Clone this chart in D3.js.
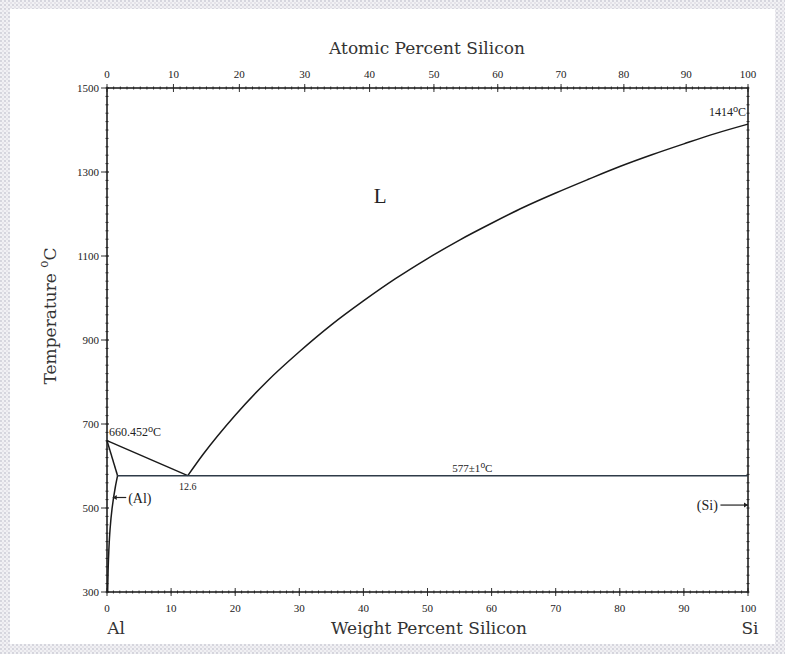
<!DOCTYPE html>
<meta charset="utf-8">
<script src="https://d3js.org/d3.v7.min.js"></script>
<style>
  body { margin: 0; background: #fff; }
  text { font-family: "Liberation Serif", "DejaVu Serif", serif; fill: #222; }
  .title { font-family: "DejaVu Serif", serif; font-size: 17px; fill: #333; }
</style>
<div id="chart"></div>
<script>
// tick values
var weightTicks = [0, 10, 20, 30, 40, 50, 60, 70, 80, 90, 100];
var atomicTicks = [0, 10, 20, 30, 40, 50, 60, 70, 80, 90, 100];
var tempTicks = [300, 500, 700, 900, 1100, 1300, 1500];

// phase boundaries, weight % Si vs temperature (C)
var liquidusWt = [12.6, 15, 20, 25, 30, 35, 40, 45, 50, 55, 60, 65, 70, 75, 80, 85, 90, 95, 100];
var liquidusT  = [577, 628, 721, 802, 872, 936, 993, 1046, 1094, 1138, 1178, 1216, 1250, 1282, 1313, 1341, 1367, 1392, 1414];
var alLiqWt = [0, 12.6];
var alLiqT  = [660.452, 577];
var solidusWt = [0, 1.65];
var solidusT  = [660.452, 577];
var solvusWt = [1.65, 1.3, 0.8, 0.48, 0.29, 0.17, 0.1];
var solvusT  = [577, 550, 500, 450, 400, 350, 300];
var eutecticWt = [1.65, 100];
var eutecticT  = [577, 577];

var W = 785, H = 654;
var margin = {top: 88, right: 37, bottom: 62, left: 107},
    width = W - margin.left - margin.right,
    height = H - margin.top - margin.bottom;

var svg = d3.select("#chart").append("svg")
    .attr("width", W).attr("height", H);

// dotted paper border
var defs = svg.append("defs");
var pat = defs.append("pattern").attr("id", "dots")
    .attr("width", 4).attr("height", 4).attr("patternUnits", "userSpaceOnUse");
pat.append("rect").attr("width", 4).attr("height", 4).attr("fill", "#f1f1f4");
pat.append("circle").attr("cx", 1).attr("cy", 1).attr("r", 0.9).attr("fill", "#c9c9d3");
pat.append("circle").attr("cx", 3).attr("cy", 3).attr("r", 0.8).attr("fill", "#d6d3dc");
svg.append("rect").attr("width", W).attr("height", H).attr("fill", "url(#dots)");
svg.append("rect").attr("x", 10).attr("y", 9).attr("width", W - 20).attr("height", H - 19)
    .attr("fill", "#fff");

var g = svg.append("g").attr("transform", "translate(" + margin.left + "," + margin.top + ")");

var x = d3.scaleLinear().domain([0, 100]).range([0, width]);
var y = d3.scaleLinear().domain([300, 1500]).range([height, 0]);

// atomic % -> weight % (Al 26.982, Si 28.086)
function atToWt(a) {
  return 100 * a * 28.086 / (a * 28.086 + (100 - a) * 26.982);
}

// minor ticks
var minorX = d3.range(0, 101, 1);
var minorY = d3.range(300, 1501, 20);

function tickMarks(sel, vals, pos, len, horizontal) {
  sel.selectAll(null).data(vals).enter().append("line")
    .attr("x1", function(d) { return horizontal ? pos(d) : -len; })
    .attr("x2", function(d) { return horizontal ? pos(d) : len; })
    .attr("y1", function(d) { return horizontal ? -len : pos(d); })
    .attr("y2", function(d) { return horizontal ? len : pos(d); })
    .attr("stroke", "#333").attr("stroke-width", 1);
}

var axBottom = g.append("g").attr("transform", "translate(0," + height + ")");
tickMarks(axBottom, minorX, x, 1.5, true);
tickMarks(axBottom, weightTicks, x, 4, true);
axBottom.selectAll(".lbl").data(weightTicks).enter().append("text")
    .attr("x", function(d) { return x(d); }).attr("y", 20)
    .attr("text-anchor", "middle").attr("font-size", 11).text(function(d) { return d; });

var axTop = g.append("g");
tickMarks(axTop, minorX.map(atToWt), x, 1.5, true);
tickMarks(axTop, atomicTicks.map(atToWt), x, 4, true);
axTop.selectAll(".lbl").data(atomicTicks).enter().append("text")
    .attr("x", function(d) { return x(atToWt(d)); }).attr("y", -10)
    .attr("text-anchor", "middle").attr("font-size", 11).text(function(d) { return d; });

var axLeft = g.append("g");
tickMarks(axLeft, minorY, y, 1.5, false);
axLeft.selectAll(".maj").data(tempTicks).enter().append("line")
    .attr("x1", -6).attr("x2", 2)
    .attr("y1", function(d) { return y(d); }).attr("y2", function(d) { return y(d); })
    .attr("stroke", "#333");
axLeft.selectAll(".lbl").data(tempTicks).enter().append("text")
    .attr("x", -8).attr("y", function(d) { return y(d) + 4; })
    .attr("text-anchor", "end").attr("font-size", 11).text(function(d) { return d; });

var axRight = g.append("g").attr("transform", "translate(" + width + ",0)");
tickMarks(axRight, minorY, y, 1.5, false);

// frame
g.append("rect").attr("width", width).attr("height", height)
    .attr("fill", "none").attr("stroke", "#222").attr("stroke-width", 1.6);

// phase boundaries
var line = d3.line().x(function(d) { return x(d[0]); }).y(function(d) { return y(d[1]); });
function boundary(ws, ts, curve, color) {
  g.append("path").datum(d3.zip(ws, ts))
    .attr("d", line.curve(curve || d3.curveLinear))
    .attr("fill", "none").attr("stroke", color || "#1a1a1a").attr("stroke-width", 1.5);
}
boundary(liquidusWt, liquidusT, d3.curveMonotoneX);
boundary(alLiqWt, alLiqT);
boundary(solidusWt, solidusT);
boundary(solvusWt, solvusT, d3.curveMonotoneY);
boundary(eutecticWt, eutecticT, d3.curveLinear, "#2e3b48");

// axis titles
svg.append("text").attr("class", "title").attr("x", 427).attr("y", 54)
    .attr("text-anchor", "middle").text("Atomic Percent Silicon");
svg.append("text").attr("class", "title").attr("x", 429).attr("y", 634)
    .attr("text-anchor", "middle").text("Weight Percent Silicon");
svg.append("text").attr("class", "title").attr("x", 116).attr("y", 634)
    .attr("text-anchor", "middle").text("Al");
svg.append("text").attr("class", "title").attr("x", 750).attr("y", 634)
    .attr("text-anchor", "middle").text("Si");

var yt = svg.append("text").attr("class", "title")
    .attr("transform", "translate(56,316) rotate(-90)").attr("text-anchor", "middle");
yt.append("tspan").text("Temperature ");
yt.append("tspan").attr("dy", -8).attr("font-size", 12).text("o");
yt.append("tspan").attr("dy", 8).text("C");

// annotations
g.append("text").attr("x", x(42.6)).attr("y", y(1226)).attr("text-anchor", "middle")
    .attr("font-size", 21).text("L");

function degLabel(px, py, num, anchor, size) {
  var t = g.append("text").attr("x", px).attr("y", py).attr("text-anchor", anchor)
      .attr("font-size", size);
  t.append("tspan").text(num);
  t.append("tspan").attr("dy", -4).attr("font-size", size * 0.85).text("o");
  t.append("tspan").attr("dy", 4).text("C");
}
degLabel(x(0) + 2, y(660.452) - 5, "660.452", "start", 12);
degLabel(x(100) - 2, y(1414) - 8, "1414", "end", 12);
degLabel(x(57), y(577) - 4, "577\u00b11", "middle", 11);

g.append("text").attr("x", x(12.6)).attr("y", y(577) + 14).attr("text-anchor", "middle")
    .attr("font-size", 10).text("12.6");

// (Al) and (Si) labels with arrows
g.append("text").attr("x", x(3.3)).attr("y", y(525) + 5).attr("font-size", 14).text("(Al)");
g.append("line").attr("x1", x(0.9)).attr("x2", x(3)).attr("y1", y(525)).attr("y2", y(525))
    .attr("stroke", "#222").attr("stroke-width", 1.2);
g.append("path").attr("d", "M" + x(0.9) + "," + y(525) + "l4,-2.5v5z").attr("fill", "#222");

g.append("text").attr("x", x(95.3)).attr("y", y(507) + 5).attr("text-anchor", "end")
    .attr("font-size", 14).text("(Si)");
g.append("line").attr("x1", x(95.7)).attr("x2", x(100)).attr("y1", y(507)).attr("y2", y(507))
    .attr("stroke", "#222").attr("stroke-width", 1.2);
g.append("path").attr("d", "M" + x(100) + "," + y(507) + "l-4,-2.5v5z").attr("fill", "#222");
</script>
